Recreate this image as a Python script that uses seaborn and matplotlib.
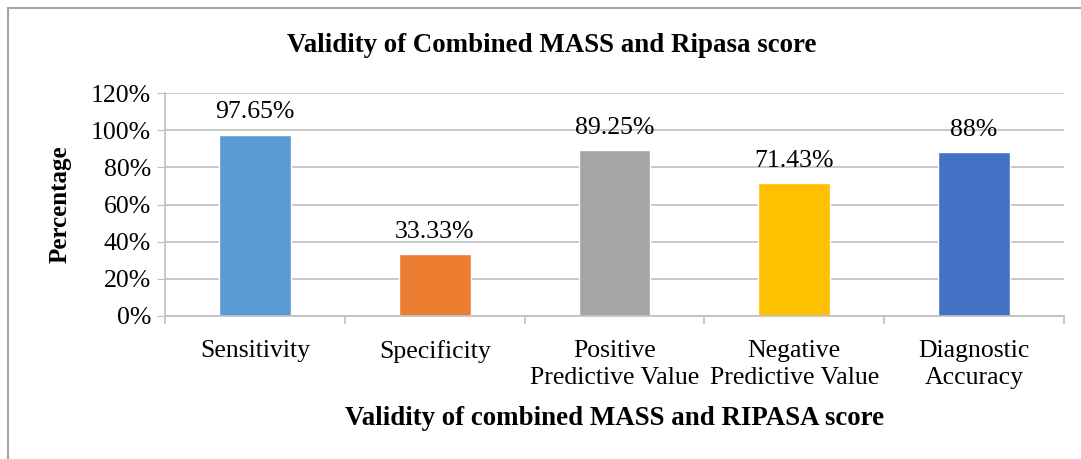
import matplotlib
matplotlib.use("Agg")
import matplotlib.pyplot as plt
from matplotlib.patches import Rectangle
from matplotlib.ticker import FixedLocator, PercentFormatter
import pandas as pd
import seaborn as sns

categories = ["Sensitivity", "Specificity", "Positive\nPredictive Value",
              "Negative\nPredictive Value", "Diagnostic\nAccuracy"]
values = [97.65, 33.33, 89.25, 71.43, 88.0]
value_labels = ["97.65%", "33.33%", "89.25%", "71.43%", "88%"]
colors = ["#5B9BD5", "#ED7D31", "#A5A5A5", "#FFC000", "#4472C4"]

df = pd.DataFrame({"Measure": categories, "Percentage": values})

sns.set_style("white")
plt.rcParams["font.family"] = ["Liberation Serif", "DejaVu Serif"]
plt.rcParams["text.color"] = "black"
plt.rcParams["axes.labelcolor"] = "black"
plt.rcParams["xtick.color"] = "black"
plt.rcParams["ytick.color"] = "black"

fig = plt.figure(figsize=(10.81, 4.59), dpi=100)
ax = fig.add_axes([165 / 1081, 1 - 316 / 459, (1064 - 165) / 1081, (316 - 93) / 459])

sns.barplot(data=df, x="Measure", y="Percentage", hue="Measure",
            palette=colors, width=0.4, legend=False, ax=ax, saturation=1)

grid_c = "#BFBFBF"
ax.set_ylim(0, 120)
ax.set_xlim(-0.5, 4.5)
ax.set_yticks(range(0, 121, 20))
ax.yaxis.set_major_formatter(PercentFormatter(decimals=0))
ax.yaxis.grid(True, color=grid_c, linewidth=1.2)
ax.set_axisbelow(True)
for s in ["top", "right"]:
    ax.spines[s].set_visible(False)
for s in ["left", "bottom"]:
    ax.spines[s].set_color(grid_c)
    ax.spines[s].set_linewidth(1.2)

ax.tick_params(axis="y", which="major", left=True, length=6, color=grid_c,
               labelcolor="black", labelsize=18.5, pad=4)
ax.tick_params(axis="x", which="major", bottom=False, labelcolor="black",
               labelsize=18.5, pad=14)
ax.xaxis.set_minor_locator(FixedLocator([-0.5, 0.5, 1.5, 2.5, 3.5, 4.5]))
ax.tick_params(axis="x", which="minor", bottom=True, length=6, color=grid_c, width=1.2)
for lab in ax.get_xticklabels():
    lab.set_linespacing(1.3)

for i, (v, t) in enumerate(zip(values, value_labels)):
    ax.annotate(t, (i, v), xytext=(0, 8), textcoords="offset points",
                ha="center", va="bottom", fontsize=18.5)

ax.set_xlabel("Validity of combined MASS and RIPASA score", fontsize=19.4,
              fontweight="bold", labelpad=12)
ax.set_ylabel("Percentage", fontsize=18, fontweight="bold", labelpad=14)

fig.text(552 / 1081, 1 - 45 / 459, "Validity of Combined MASS and Ripasa score",
         ha="center", va="center", fontsize=19.4, fontweight="bold")

fig.patches.append(Rectangle((8 / 1081, -0.2), 1.2, 1.2 - 8 / 459,
                             transform=fig.transFigure, fill=False,
                             edgecolor="#A6A6A6", linewidth=1.5, clip_on=False))

fig.savefig("out.png", dpi=100, facecolor="white")
